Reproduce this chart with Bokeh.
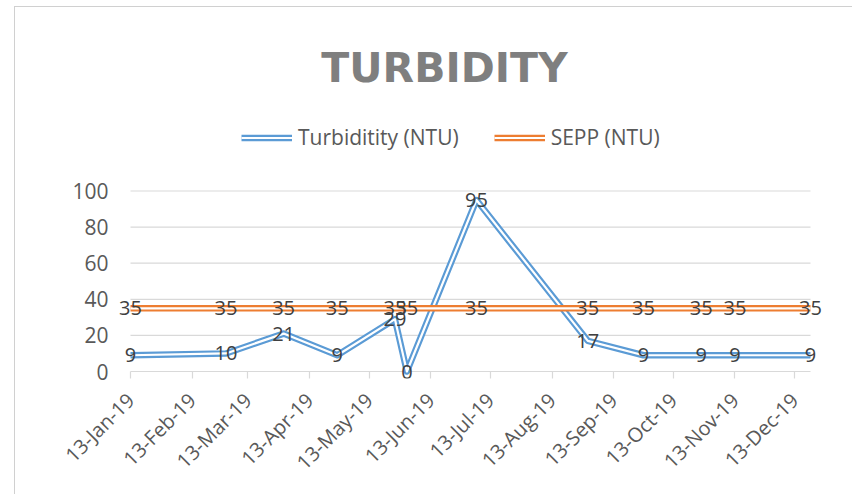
from math import pi
import pandas as pd
from bokeh.plotting import figure
from bokeh.models import (Range1d, FixedTicker, DatetimeTickFormatter, ColumnDataSource,
                          LabelSet, Label, Legend, LegendItem, InlineStyleSheet)
from bokeh.core.properties import value
from bokeh.embed import file_html
from bokeh.resources import INLINE

# ---- data ----
dates = ["2019-01-13", "2019-03-02", "2019-03-31", "2019-04-27", "2019-05-26", "2019-06-01",
         "2019-07-06", "2019-08-31", "2019-09-28", "2019-10-27", "2019-11-13", "2019-12-21"]
turbidity = [9, 10, 21, 9, 29, 0, 95, 17, 9, 9, 9, 9]
sepp = [35, 35, 35, 35, 35, 35, 35, 35, 35, 35, 35, 35]
tick_dates = ["2019-01-13", "2019-02-13", "2019-03-13", "2019-04-13", "2019-05-13", "2019-06-13",
              "2019-07-13", "2019-08-13", "2019-09-13", "2019-10-13", "2019-11-13", "2019-12-13"]
y_ticks = [0, 20, 40, 60, 80, 100]
series_names = ["Turbiditity (NTU)", "SEPP (NTU)"]
title_text = "TURBIDITY"

FONT = "Open Sans"
BLUE = "#5B9BD5"
ORANGE = "#ED7D31"
GRID = "#d9d9d9"

# ---- layout geometry (pixels) ----
W, H = 852, 494
LEFT, RIGHT = 116, 28      # frame borders
FRAME_TOP, FRAME_BOTTOM = 2, 378
Y100, Y0 = 190.5, 371      # where y=100 and y=0 sit
PAD_X = 14                 # room so edge data labels are not clipped
frame_w = W - LEFT - RIGHT
ppu = (Y0 - Y100) / 100.0  # pixels per y unit

x = pd.to_datetime(dates)
t0, t1 = x[0], x[-1]
pad = (t1 - t0) * (PAD_X / (frame_w - 2 * PAD_X))
y_start = -(FRAME_BOTTOM - Y0) / ppu
y_end = 100 + (Y100 - FRAME_TOP) / ppu

src1 = ColumnDataSource(dict(x=x, y=turbidity, t=[str(v) for v in turbidity]))
src2 = ColumnDataSource(dict(x=x, y=sepp, t=[str(v) for v in sepp]))

p = figure(width=W, height=H, x_axis_type="datetime", title=None,
           x_range=Range1d(t0 - pad, t1 + pad), y_range=Range1d(y_start, y_end),
           output_backend="svg", toolbar_location=None,
           min_border_left=LEFT, min_border_right=RIGHT,
           min_border_top=FRAME_TOP, min_border_bottom=H - FRAME_BOTTOM)
p.outline_line_color = None
p.background_fill_color = "white"
p.border_fill_color = "white"
p.xgrid.visible = False
p.ygrid.visible = False

# faint chart-area border (left and top edges)
p.stylesheets = [InlineStyleSheet(css="""
:host { position: relative; }
:host::after { content: ""; position: absolute; left: 14px; top: 6px; right: 0; bottom: 0;
  border-left: 1px solid #d0d0d0; border-top: 1px solid #d0d0d0; pointer-events: none; z-index: 10; }
""")]

# horizontal gridlines spanning the date extent of the data
p.segment(x0=[t0] * len(y_ticks), x1=[t1] * len(y_ticks), y0=y_ticks, y1=y_ticks,
          line_color=GRID, line_width=1.2)

# compound (double) lines: thick coloured stroke with a thin white core
r1 = p.line("x", "y", source=src1, line_color=BLUE, line_width=6.5, line_join="round")
r1w = p.line("x", "y", source=src1, line_color="white", line_width=2.2, line_join="round")
r2 = p.line("x", "y", source=src2, line_color=ORANGE, line_width=6.5, line_join="round")
r2w = p.line("x", "y", source=src2, line_color="white", line_width=2.2, line_join="round")

# data labels
for s in (src1, src2):
    p.add_layout(LabelSet(x="x", y="y", text="t", source=s, text_align="center",
                          text_baseline="middle", text_font=value(FONT),
                          text_font_size="20px", text_color="#404040"))

# x axis
tick_ms = [pd.Timestamp(d).value // 10**6 for d in tick_dates]
p.xaxis.ticker = FixedTicker(ticks=tick_ms)
fmt = "%d-%b-%y"
p.xaxis.formatter = DatetimeTickFormatter(days=fmt, months=fmt, years=fmt, hours=fmt,
                                          hourmin=fmt, minutes=fmt, context=None)
p.xaxis.major_label_orientation = pi / 4
p.xaxis.axis_line_color = None
p.xaxis.major_tick_line_color = GRID
p.xaxis.major_tick_line_width = 1.2
p.xaxis.major_tick_in = FRAME_BOTTOM - Y0
p.xaxis.major_tick_out = 0
p.xaxis.minor_tick_line_color = None
p.xaxis.major_label_text_font = FONT
p.xaxis.major_label_text_font_size = "20px"
p.xaxis.major_label_text_color = "#595959"
p.xaxis.major_label_standoff = 18

# y axis
p.yaxis.ticker = FixedTicker(ticks=y_ticks)
p.yaxis.axis_line_color = None
p.yaxis.major_tick_line_color = None
p.yaxis.minor_tick_line_color = None
p.yaxis.major_label_standoff = 2
p.yaxis.major_label_text_font = FONT
p.yaxis.major_label_text_font_size = "21px"
p.yaxis.major_label_text_color = "#595959"

# legend (inside the tall frame, above the data area)
legend = Legend(items=[LegendItem(label=series_names[0], renderers=[r1, r1w]),
                       LegendItem(label=series_names[1], renderers=[r2, r2w])],
                orientation="horizontal", location=(125, FRAME_BOTTOM - 151),
                padding=0, margin=0, border_line_color=None, background_fill_alpha=0,
                glyph_width=51, glyph_height=27, label_standoff=6, spacing=35,
                label_text_font=FONT, label_text_font_size="21px", label_text_color="#595959")
p.add_layout(legend)

# title
p.add_layout(Label(x=444 - LEFT, y=FRAME_BOTTOM + 16 - 83, x_units="screen", y_units="screen",
                   text=title_text, text_align="center", text_baseline="alphabetic",
                   text_font="DejaVu Sans", text_font_size="41px", text_font_style="bold",
                   text_color="#7f7f7f"))

open("out.html", "w").write(file_html(p, INLINE))
